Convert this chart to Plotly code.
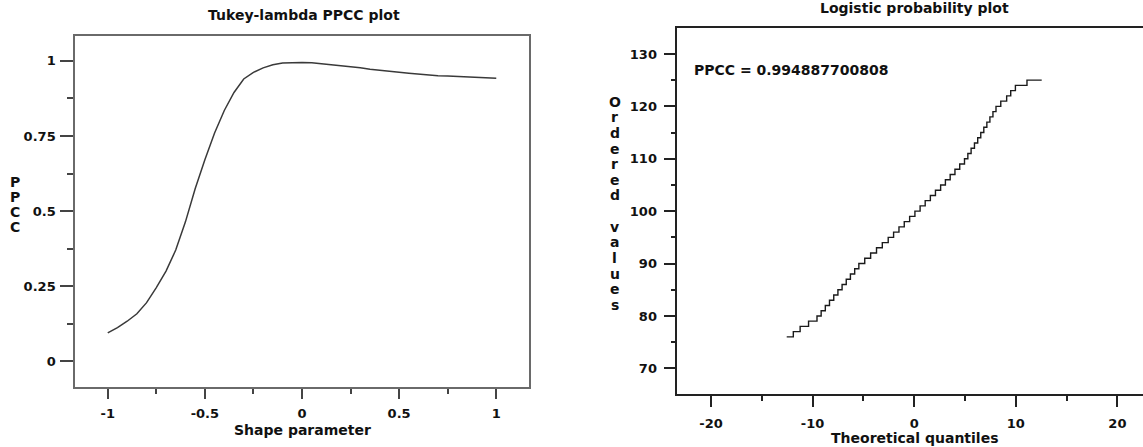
import plotly.graph_objects as go

# ---------------- data ----------------
shape_param = [-1.0, -0.95, -0.9, -0.85, -0.8, -0.75, -0.7, -0.65, -0.6, -0.55, -0.5,
               -0.45, -0.4, -0.35, -0.3, -0.25, -0.2, -0.15, -0.1, -0.05, 0.0,
               0.05, 0.1, 0.15, 0.2, 0.25, 0.3, 0.35, 0.4, 0.45, 0.5,
               0.55, 0.6, 0.65, 0.7, 0.75, 0.8, 0.85, 0.9, 0.95, 1.0]
ppcc_values = [0.094, 0.112, 0.133, 0.158, 0.195, 0.245, 0.300, 0.370, 0.464, 0.574, 0.671,
               0.760, 0.835, 0.895, 0.940, 0.962, 0.977, 0.987, 0.993, 0.995, 0.995,
               0.994, 0.991, 0.988, 0.985, 0.981, 0.977, 0.972, 0.968, 0.965, 0.962,
               0.959, 0.956, 0.953, 0.951, 0.950, 0.948, 0.946, 0.944, 0.943, 0.942]

# staircase of the logistic probability plot: start of each level (theoretical quantile), ordered value
theo_quantiles = [-12.55, -11.9, -11.23, -10.40, -9.57, -9.16, -8.75, -8.34, -7.92, -7.51,
                  -7.10, -6.69, -6.28, -5.86, -5.45, -4.87, -4.29, -3.71, -3.14, -2.56,
                  -2.03, -1.50, -0.98, -0.45, 0.07, 0.58, 1.08, 1.59, 2.09, 2.60,
                  3.07, 3.54, 4.01, 4.48, 4.95, 5.28, 5.60, 5.93, 6.25, 6.55,
                  6.85, 7.15, 7.45, 7.75, 8.05, 8.52, 9.10, 9.50, 9.96, 11.10, 12.55]
ordered_values = [76, 77, 78, 79, 80, 81, 82, 83, 84, 85,
                  86, 87, 88, 89, 90, 91, 92, 93, 94, 95,
                  96, 97, 98, 99, 100, 101, 102, 103, 104, 105,
                  106, 107, 108, 109, 110, 111, 112, 113, 114, 115,
                  116, 117, 118, 119, 120, 121, 122, 123, 124, 125, 125]

ppcc_text = "PPCC = 0.994887700808"

left_x_ticks = [-1, -0.5, 0, 0.5, 1]
left_x_labels = ["-1", "-0.5", "0", "0.5", "1"]
left_y_ticks = [0, 0.25, 0.5, 0.75, 1]
left_y_labels = ["0", "0.25", "0.5", "0.75", "1"]
right_x_ticks = [-20, -10, 0, 10, 20]
right_x_labels = ["-20", "-10", "0", "10", "20"]
right_y_ticks = [70, 80, 90, 100, 110, 120, 130]
right_y_labels = ["70", "80", "90", "100", "110", "120", "130"]

# ---------------- figure ----------------
W, H = 1143, 447
FONT = "DejaVu Sans"
tickfont = dict(family=FONT, size=13, color="#111", weight="bold")

fig = go.Figure()
fig.add_trace(go.Scatter(x=shape_param, y=ppcc_values, mode="lines",
                         line=dict(color="#3a3a3a", width=1.5),
                         xaxis="x", yaxis="y", showlegend=False))
fig.add_trace(go.Scatter(x=theo_quantiles, y=ordered_values, mode="lines",
                         line=dict(color="#1a1a1a", width=1.4, shape="hv"),
                         xaxis="x2", yaxis="y2", showlegend=False))

LGRAY = "#6a6a6a"
fig.update_layout(
    width=W, height=H,
    margin=dict(l=0, r=0, t=0, b=0),
    paper_bgcolor="white", plot_bgcolor="white",
    xaxis=dict(domain=[75.3 / W, 528.7 / W], range=[-1.167, 1.167],
               tickvals=left_x_ticks, ticktext=left_x_labels,
               ticks="outside", ticklen=10, tickwidth=1.5, tickcolor="#444",
               showline=True, linecolor=LGRAY, linewidth=2, mirror=True,
               showgrid=False, zeroline=False, tickfont=tickfont,
               ticklabelstandoff=4,
               minor=dict(ticks="outside", ticklen=5, tickwidth=1.5, tickcolor="#444",
                          dtick=0.25, tick0=0, showgrid=False),
               anchor="y"),
    yaxis=dict(domain=[1 - 386.7 / H, 1 - 36 / H], range=[-0.085, 1.083],
               tickvals=left_y_ticks, ticktext=left_y_labels,
               ticks="outside", ticklen=13, tickwidth=1.5, tickcolor="#444",
               showline=True, linecolor=LGRAY, linewidth=2, mirror=True,
               showgrid=False, zeroline=False, tickfont=tickfont,
               ticklabelstandoff=2,
               minor=dict(ticks="outside", ticklen=6, tickwidth=1.5, tickcolor="#444",
                          dtick=0.125, tick0=0, showgrid=False),
               anchor="x"),
    xaxis2=dict(domain=[677.3 / W, 1.0], range=[-23.32, 22.52],
                tickvals=right_x_ticks, ticktext=right_x_labels,
                ticks="outside", ticklen=11, tickwidth=1.5, tickcolor="#222",
                showline=True, linecolor="#222", linewidth=1.5, mirror=True,
                showgrid=False, zeroline=False, tickfont=tickfont,
                ticklabelstandoff=6,
                minor=dict(ticks="outside", ticklen=5, tickwidth=1.5, tickcolor="#222",
                           dtick=5, tick0=0, showgrid=False),
                anchor="y2"),
    yaxis2=dict(domain=[1 - 394 / H, 1 - 28.3 / H], range=[65.1, 134.9],
                tickvals=right_y_ticks, ticktext=right_y_labels,
                ticks="outside", ticklen=12, tickwidth=1.5, tickcolor="#222",
                showline=True, linecolor="#222", linewidth=1.5, mirror=False,
                showgrid=False, zeroline=False, tickfont=tickfont,
                ticklabelstandoff=4,
                minor=dict(ticks="outside", ticklen=5, tickwidth=1.5, tickcolor="#222",
                           dtick=5, tick0=0, showgrid=False),
                anchor="x2"),
)

txt = dict(family=FONT, size=14, color="#111", weight="bold")
vtxt = dict(family=FONT, size=14, color="#111", weight="bold")
annos = [
    dict(text="Tukey-lambda PPCC plot", x=303.5 / W, y=1 - 15 / H, font=txt),
    dict(text="Logistic probability plot", x=914 / W, y=1 - 8 / H, font=txt),
    dict(text="Shape parameter", x=302 / W, y=1 - 430 / H, font=txt),
    dict(text="Theoretical quantiles", x=914 / W, y=1 - 437.5 / H, font=txt),
]
for a in annos:
    fig.add_annotation(xref="paper", yref="paper", xanchor="center", yanchor="middle",
                       showarrow=False, align="center", **a)


def vertical_label(label, xc, yc, step):
    n = len(label)
    y0 = yc - step * (n - 1) / 2.0
    for i, ch in enumerate(label):
        if ch == " ":
            continue
        fig.add_annotation(text=ch, xref="paper", yref="paper", x=xc / W,
                           y=1 - (y0 + i * step) / H, xanchor="center", yanchor="middle",
                           showarrow=False, font=vtxt)


vertical_label("PPCC", 14.6, 204, 15.0)
vertical_label("Ordered values", 614.7, 203.3, 15.64)

fig.add_annotation(text=ppcc_text, xref="x2", yref="y2", x=-21.9, y=126.9,
                   xanchor="left", yanchor="middle", showarrow=False, font=txt)

fig.write_html("out.html")
